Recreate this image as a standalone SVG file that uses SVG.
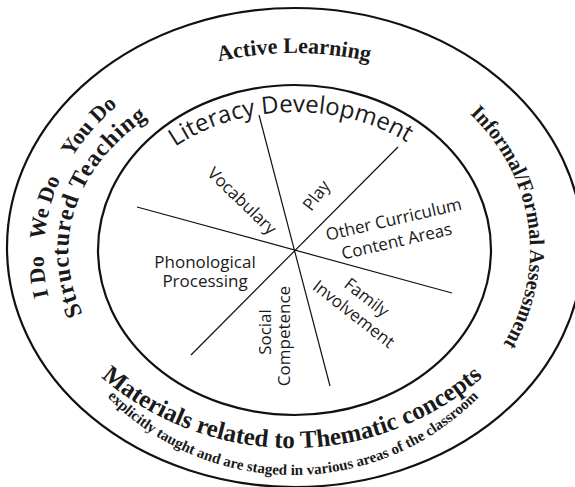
<svg xmlns="http://www.w3.org/2000/svg" width="575" height="487" viewBox="0 0 575 487">
<style>
.ring{fill:none;stroke:#111;stroke-width:2.2}
.spoke{stroke:#111;stroke-width:1.2;fill:none}
.serif{font-family:"Liberation Serif","Times New Roman",serif;font-weight:bold;fill:#1a1a1a}
.sans{font-family:"Open Sans","Noto Sans",sans-serif;fill:#1a1a1a}
.lbl{font-size:17px;text-anchor:middle}
</style>
<defs>
<path id="pTop" d="M144,86.8 A350,350 0 0 1 444,86.8"/>
<path id="pLeftOut" d="M58.6,326.8 A249,210 0 0 1 293,45"/>
<path id="pLeftIn" d="M97.3,338 A226,176 0 0 1 253.8,78.7"/>
<path id="pRight" d="M411,72.5 A238,205 0 0 1 474.3,381.8"/>
<path id="pBot1" d="M90,366.9 A292,292 0 0 0 494,366.9"/>
<path id="pBot2" d="M100,389.2 A260,260 0 0 0 486,389.2"/>
<path id="pLit" d="M125.4,202.8 A180,138 0 0 1 463.6,202.8"/>
</defs>

<g id="rings">
<ellipse class="ring" cx="295" cy="247.5" rx="288" ry="239.5"/>
<ellipse class="ring" cx="294.5" cy="250" rx="196.5" ry="165"/>
</g>

<g id="connectors">
<line class="spoke" x1="259" y1="115" x2="330" y2="386"/>
<line class="spoke" x1="137" y1="207" x2="452" y2="293"/>
<line class="spoke" x1="191" y1="355" x2="398" y2="147"/>
</g>

<g id="active-learning">
<text class="serif" font-size="22" text-anchor="middle"><textPath href="#pTop" startOffset="50%">Active Learning</textPath></text>
</g>

<g id="i-do-we-do-you-do">
<text class="serif" font-size="22"><textPath href="#pLeftOut" startOffset="32">I Do</textPath></text>
<text class="serif" font-size="22"><textPath href="#pLeftOut" startOffset="89">We Do</textPath></text>
<text class="serif" font-size="22"><textPath href="#pLeftOut" startOffset="177">You Do</textPath></text>
</g>

<g id="structured-teaching">
<text class="serif" font-size="24"><textPath href="#pLeftIn" startOffset="28" textLength="226" lengthAdjust="spacing">Structured Teaching</textPath></text>
</g>

<g id="assessment">
<text class="serif" font-size="21"><textPath href="#pRight" startOffset="72" textLength="252" lengthAdjust="spacingAndGlyphs">Informal/Formal Assessment</textPath></text>
</g>

<g id="materials">
<text class="serif" font-size="25" text-anchor="middle"><textPath href="#pBot1" startOffset="50%">Materials related to Thematic concepts</textPath></text>
<text class="serif" font-size="15" text-anchor="middle"><textPath href="#pBot2" startOffset="50%">explicitly taught and are staged in various areas of the classroom</textPath></text>
</g>

<g id="literacy-development">
<text class="sans" font-size="24" text-anchor="middle"><textPath href="#pLit" startOffset="49%">Literacy Development</textPath></text>
</g>

<g id="vocabulary">
<text class="sans lbl" transform="translate(238,205) rotate(44)">Vocabulary</text>
</g>
<g id="play">
<text class="sans lbl" transform="translate(321,199) rotate(-53)">Play</text>
</g>
<g id="other-curriculum">
<text class="sans lbl" transform="translate(395,225) rotate(-13)"><tspan x="0" y="0">Other Curriculum</tspan><tspan x="-2" y="22">Content Areas</tspan></text>
</g>
<g id="phonological">
<text class="sans lbl"><tspan x="205" y="268">Phonological</tspan><tspan x="205" y="287">Processing</tspan></text>
</g>
<g id="social">
<text class="sans lbl" transform="translate(271,332) rotate(-90)"><tspan x="0" y="0">Social</tspan><tspan x="-4" y="19">Competence</tspan></text>
</g>
<g id="family">
<text class="sans lbl" transform="translate(363,302) rotate(38)"><tspan x="0" y="0">Family</tspan><tspan x="0" y="21">Involvement</tspan></text>
</g>
</svg>
